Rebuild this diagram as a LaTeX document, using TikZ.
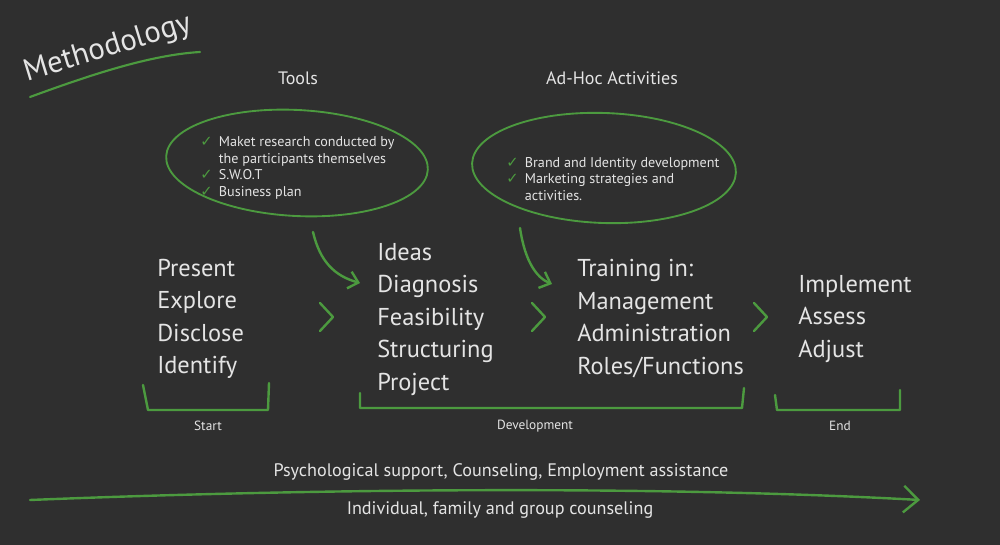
\documentclass[tikz,border=0pt]{standalone}
\usepackage{fontspec}
\setmainfont{PT Sans}
\newfontfamily\symfont{DejaVu Sans}
\usetikzlibrary{arrows.meta,shapes.geometric,calc}
\definecolor{board}{HTML}{2F2F2F}
\definecolor{chalkgreen}{HTML}{4C9A3F}
\definecolor{chalk}{HTML}{E4E4E4}
\newcommand{\chk}{\makebox[14pt][l]{\color{chalkgreen}\fontsize{11}{11}\symfont ✓}}
\newcommand{\nochk}{\makebox[14pt][l]{}}
\begin{document}
\begin{tikzpicture}[x=0.75pt,y=-0.75pt,
  chalkline/.style={draw=chalkgreen, line width=1.8pt, line cap=round, line join=round},
  garrow/.style={chalkline, -{Straight Barb[length=7pt,width=13pt,line width=1.8pt]}},
  chev/.style={chalkline},
  bigtext/.style={text=chalk, anchor=west, align=left, inner sep=0pt,
    font=\fontsize{18.3}{24.4}\selectfont},
  smalltext/.style={text=chalk, anchor=west, align=left, inner sep=0pt,
    font=\fontsize{10.6}{12.5}\selectfont},
  head/.style={text=chalk, inner sep=0pt, font=\fontsize{13.5}{15}\selectfont},
  label/.style={text=chalk, inner sep=0pt, font=\fontsize{10}{12}\selectfont},
  bottomtext/.style={text=chalk, inner sep=0pt, font=\fontsize{13.6}{15}\selectfont},
  oval/.style={ellipse, chalkline, line width=1.4pt, inner sep=0pt}
]
\useasboundingbox[fill=board] (0,0) rectangle (1000,545);

% title
\node[text=chalk, rotate=17, font=\fontsize{23}{26}\selectfont, inner sep=0pt] (title) at (108,49) {Methodology};
\coordinate (ul1) at (30,97);
\coordinate (ul2) at (200,52);
\draw[chalkline, line width=1.6pt] (ul1) .. controls (90,75) and (150,55) .. (ul2);

% headings
\node[head] (tools) at (298,78) {Tools};
\node[head] (adhoc) at (612,78) {Ad-Hoc Activities};

% ellipses
\node[oval, minimum width=262pt*0.75, minimum height=106pt*0.75, rotate=-3] (toolsoval) at (297,163) {};
\node[oval, minimum width=264pt*0.75, minimum height=110pt*0.75, rotate=-2] (adhocoval) at (604,168) {};

\node[smalltext] (toolstxt) at (200,168) {\chk Maket research conducted by\\
\nochk the participants themselves\\
\chk S.W.O.T\\
\chk Business plan};
\node[smalltext] (adhoctxt) at (506,179) {\chk Brand and Identity development\\
\chk Marketing strategies and\\
\nochk activities.};

% columns
\node[bigtext] (c1) at (157,319) {Present\\Explore\\Disclose\\Identify};
\node[bigtext] (c2) at (377,319.5) {Ideas\\Diagnosis\\Feasibility\\Structuring\\Project};
\node[bigtext] (c3) at (577,318.5) {Training in:\\Management\\Administration\\Roles/Functions};
\node[bigtext] (c4) at (798,319) {Implement\\Assess\\Adjust};

% curved arrows from ovals
\coordinate (a1s) at (313,232);
\coordinate (a1e) at (360,283);
\draw[garrow] (a1s) .. controls (320,262) and (335,276) .. (a1e);
\coordinate (a2s) at (520,228);
\coordinate (a2e) at (552,284);
\draw[garrow] (a2s) .. controls (525,262) and (537,278) .. (a2e);

% chevrons
\foreach \x/\n in {320/ch1, 532/ch2, 754/ch3}{
  \coordinate (\n) at (\x,317);
  \draw[chev] ($(\n)+(0,-14)$) -- ($(\n)+(13,0)$) -- ($(\n)+(0,14)$);
}

% brackets
\draw[chalkline] (143,385) -- (148,410) -- (268,410) -- (269,383);
\draw[chalkline] (360,393) -- (360,408) -- (742,408) -- (744,388);
\draw[chalkline] (775,395) -- (777,410) -- (900,410) -- (900,390);
\node[label] (start) at (208,426) {Start};
\node[label] (dev) at (535,426) {Development};
\node[label] (end) at (840,426) {End};

% bottom arrow
\coordinate (b1) at (30,500);
\coordinate (b2) at (920,500);
\draw[chalkline, -{Straight Barb[length=11pt,width=20pt,line width=1.8pt]}] (b1) .. controls (300,489) and (650,485) .. (b2);
\node[bottomtext] (psy) at (501,472) {Psychological support, Counseling, Employment assistance};
\node[bottomtext] (ind) at (500,510) {Individual, family and group counseling};
\end{tikzpicture}
\end{document}
